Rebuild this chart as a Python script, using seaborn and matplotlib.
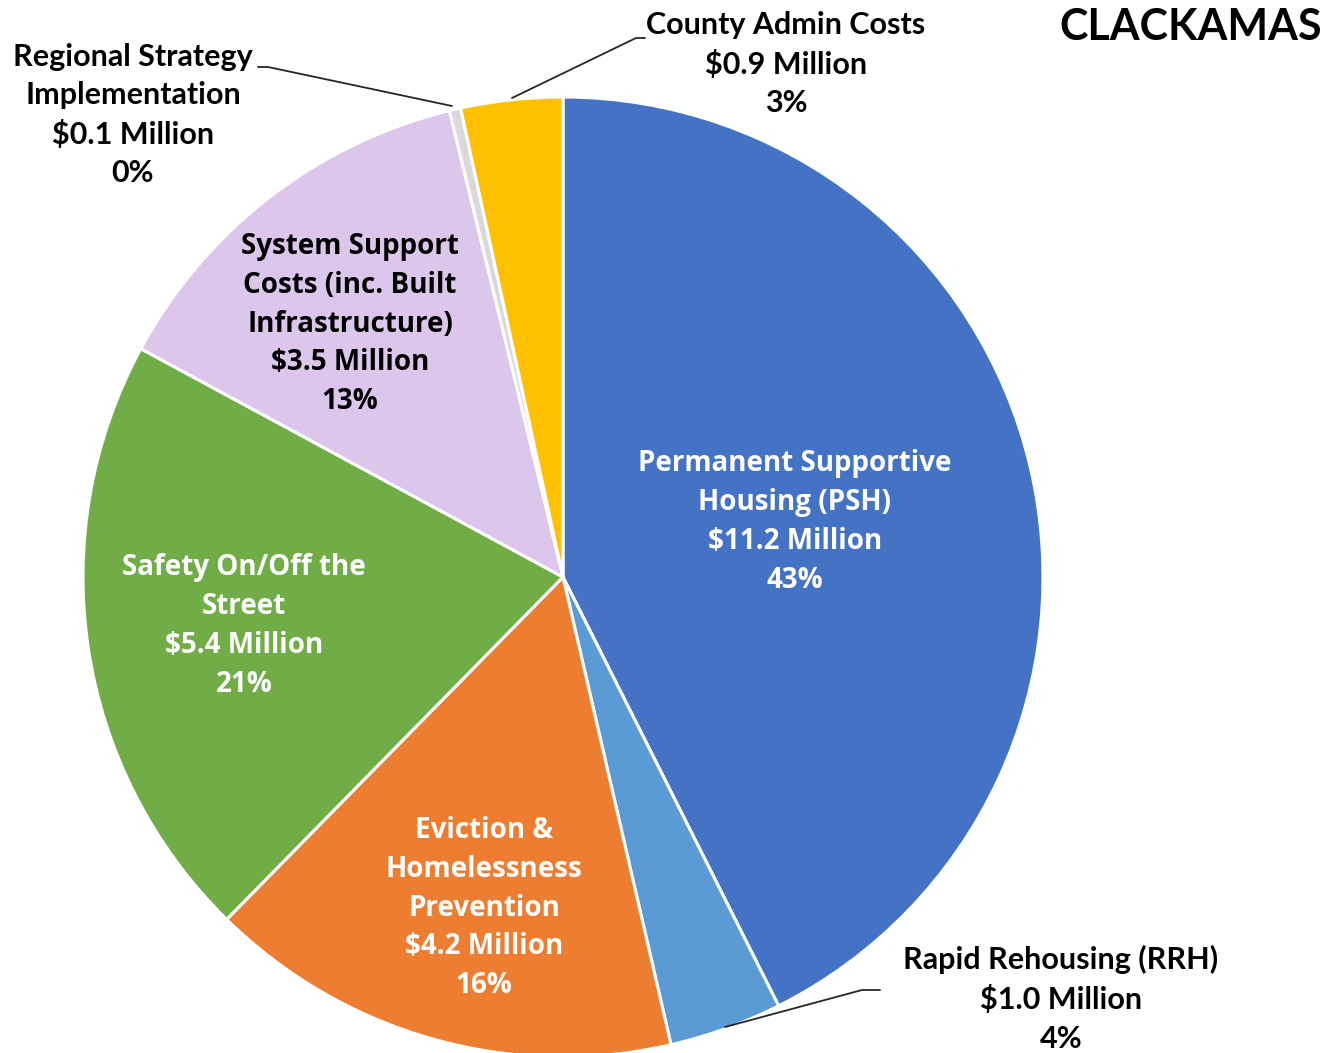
import matplotlib
matplotlib.use("Agg")
import matplotlib.pyplot as plt
import seaborn as sns

sns.set_theme(style="white")
plt.rcParams['font.family'] = ['Lato', 'DejaVu Sans']

categories = [
    "Permanent Supportive\nHousing (PSH)",
    "Rapid Rehousing (RRH)",
    "Eviction &\nHomelessness\nPrevention",
    "Safety On/Off the\nStreet",
    "System Support\nCosts (inc. Built\nInfrastructure)",
    "Regional Strategy\nImplementation",
    "County Admin Costs",
]
values = [11.2, 1.0, 4.2, 5.4, 3.5, 0.1, 0.9]
colors = ["#4472C4", "#5B9BD5", "#ED7D31", "#70AD47", "#DDC6EC", "#D9D9D9", "#FFC000"]
title = "CLACKAMAS"

W, H = 1342, 1053
CX, CY, R = 563, 577, 480

fig = plt.figure(figsize=(W / 100, H / 100), dpi=100)
ax = fig.add_axes([0, 0, 1, 1])

ax.pie(values, colors=colors, startangle=90, counterclock=False, radius=1,
       wedgeprops=dict(edgecolor='white', linewidth=2.2))
ax.set_xlim(-CX / R, (W - CX) / R)
ax.set_ylim(-(H - CY) / R, CY / R)
ax.set_aspect('equal')
ax.axis('off')

def P(x, y):
    return ((x - CX) / R, (CY - y) / R)

total = sum(values)
labels = [f"{c}\n${v:.1f} Million\n{round(v / total * 100):.0f}%" for c, v in zip(categories, values)]

# label positions (pixel centers of label block), colour, font
label_pos = [
    ((795, 522), 'white', 'Open Sans'),
    ((1061, 999), 'black', 'Lato'),
    ((484, 908), 'white', 'Open Sans'),
    ((244, 626), 'white', 'Open Sans'),
    ((350, 324), 'black', 'Open Sans'),
    ((133, 115), 'black', 'Lato'),
    ((786, 64), 'black', 'Lato'),
]
for lab, ((x, y), col, fam) in zip(labels, label_pos):
    ax.text(*P(x, y), lab, ha='center', va='center', color=col,
            fontsize=20 if fam == 'Open Sans' else 22, fontweight='bold',
            family=[fam, 'DejaVu Sans'], linespacing=1.45)

# leader lines
leaders = [
    [(880, 990), (862, 990), (725, 1027)],
    [(258, 67), (268, 67), (452, 106)],
    [(645, 38), (636, 38), (512, 98)],
]
for pts in leaders:
    xs, ys = zip(*[P(*p) for p in pts])
    ax.plot(xs, ys, color='#262626', lw=1.3)

ax.text(*P(1322, 27), title, ha='right', va='center', fontsize=31, fontweight='bold',
        color='black', family=['Lato', 'DejaVu Sans'])

fig.savefig("out.png", dpi=100, facecolor='white')
